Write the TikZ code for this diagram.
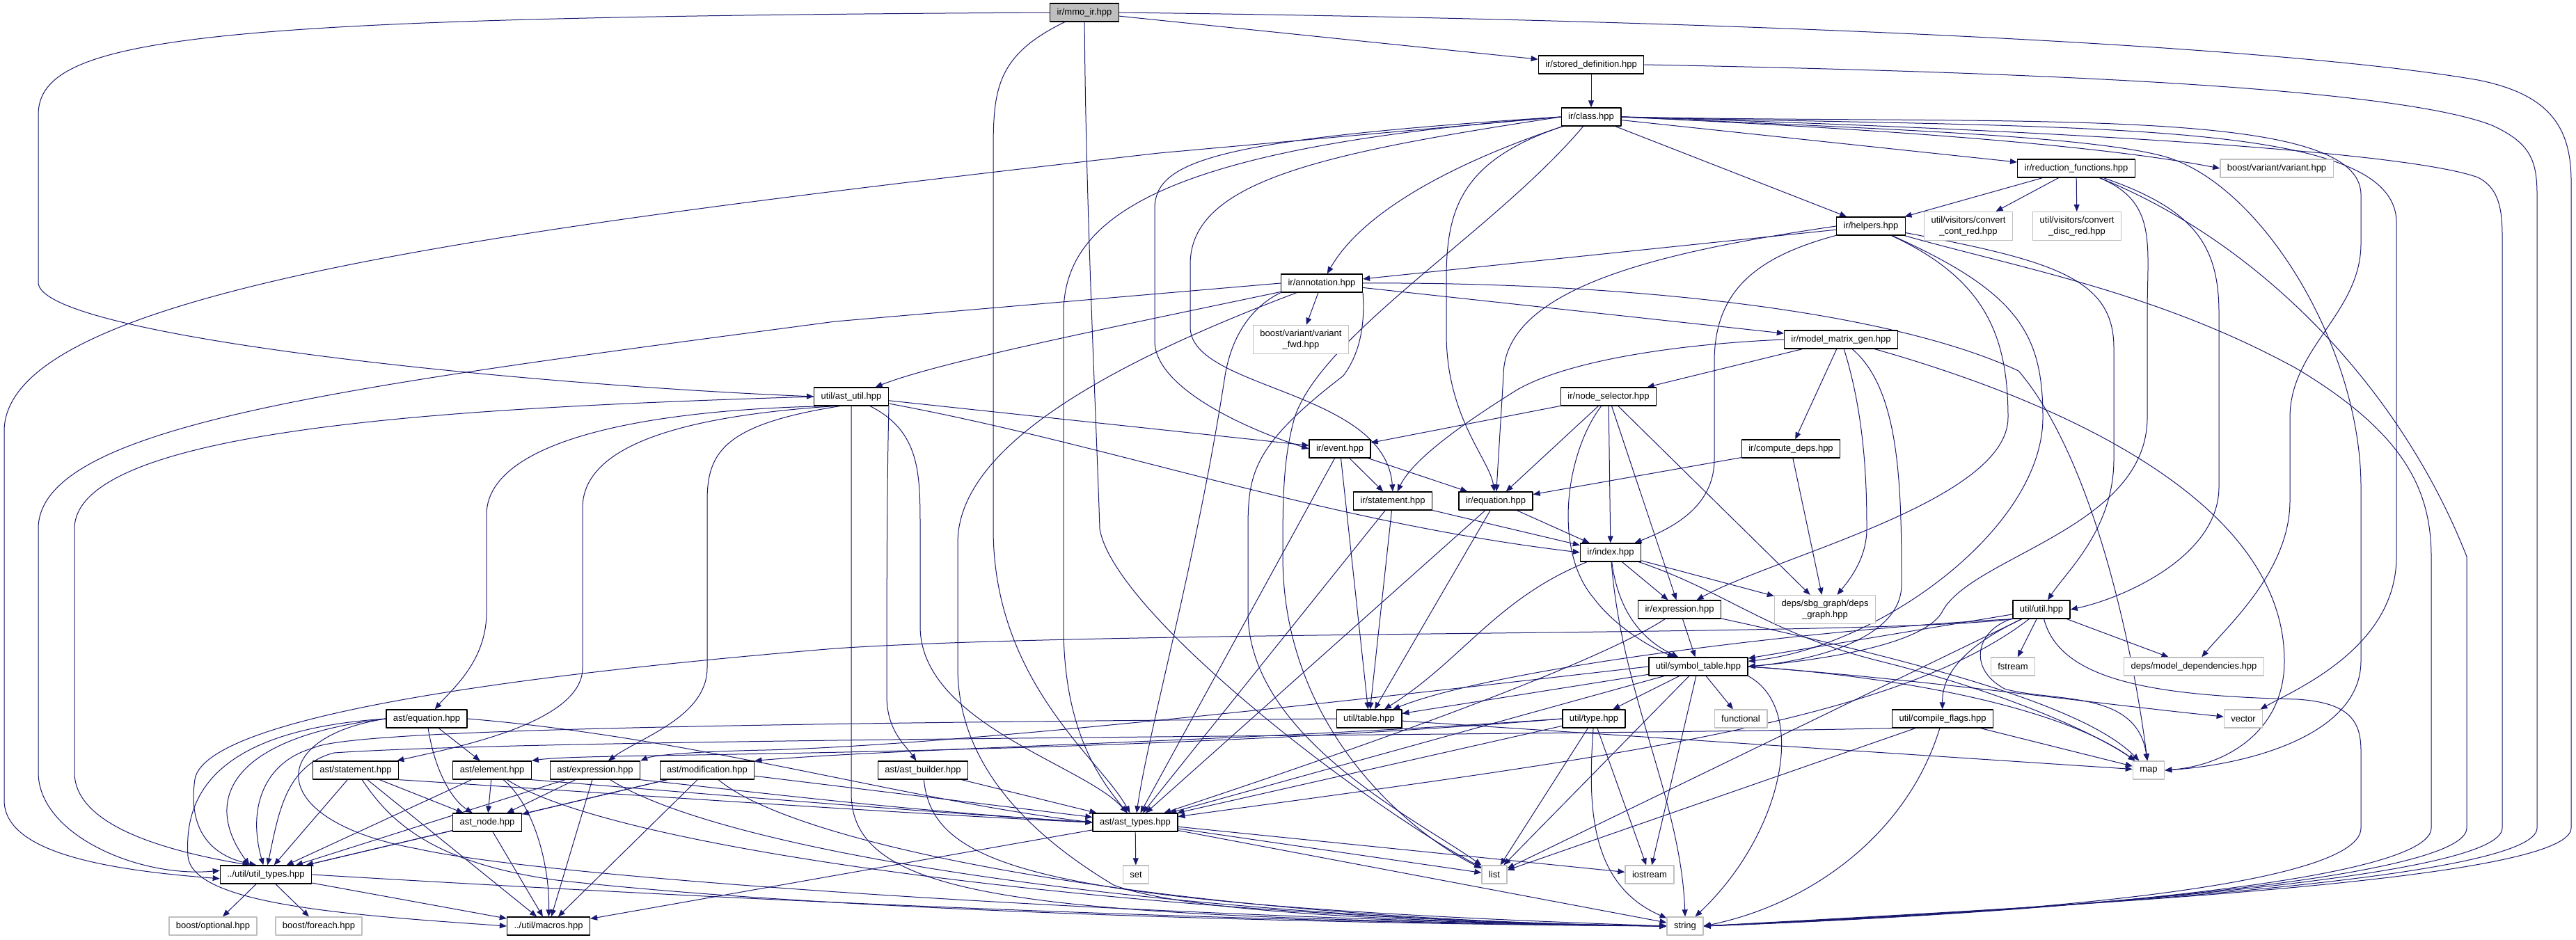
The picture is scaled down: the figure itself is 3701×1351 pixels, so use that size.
\documentclass[tikz,border=0pt]{standalone}
\usepackage{fontspec}
\setmainfont{Liberation Sans}
\usetikzlibrary{arrows.meta}
\definecolor{incblue}{HTML}{191970}
\definecolor{sysgrey}{HTML}{BFBFBF}
\pgfdeclarelayer{back}
\pgfsetlayers{back,main}
\begin{document}
\begin{tikzpicture}[x=1bp, y=-1bp, font=\fontsize{13bp}{15.5bp}\selectfont, line join=round,
	hdr/.style={draw=black, line width=1.3bp, fill=white, minimum height=26bp, inner xsep=10bp, inner ysep=0bp, align=center},
	sys/.style={hdr, draw=sysgrey},
	tall/.style={minimum height=41bp},
	dep/.style={draw=incblue, line width=1bp, -{Triangle[length=10bp, width=8bp]}}]
	\useasboundingbox (0,0) rectangle (3701,1351);
	\path
	(1558,18) node[hdr, fill=sysgrey] (mmoir) {ir/mmo\_ir.hpp}
	(2286,93) node[hdr] (storeddef) {ir/stored\_definition.hpp}
	(2286,168) node[hdr] (class) {ir/class.hpp}
	(2983,242) node[hdr] (redfun) {ir/reduction\_functions.hpp}
	(3271,242) node[sys] (variant) {boost/variant/variant.hpp}
	(2688,325) node[hdr] (helpers) {ir/helpers.hpp}
	(2828,325) node[sys, tall] (contred) {util/visitors/convert\\\_cont\_red.hpp}
	(2984,325) node[sys, tall] (discred) {util/visitors/convert\\\_disc\_red.hpp}
	(1899,407) node[hdr] (annot) {ir/annotation.hpp}
	(1869,488) node[sys, tall] (varfwd) {boost/variant/variant\\\_fwd.hpp}
	(2645,488) node[hdr] (mmg) {ir/model\_matrix\_gen.hpp}
	(1223,570) node[hdr] (astutil) {util/ast\_util.hpp}
	(2311,570) node[hdr] (nodesel) {ir/node\_selector.hpp}
	(1925,645) node[hdr] (event) {ir/event.hpp}
	(2573,645) node[hdr] (cdeps) {ir/compute\_deps.hpp}
	(2001,720) node[hdr] (irstmt) {ir/statement.hpp}
	(2149,720) node[hdr] (ireq) {ir/equation.hpp}
	(2314,794) node[hdr] (irindex) {ir/index.hpp}
	(2413,876) node[hdr] (irexpr) {ir/expression.hpp}
	(2622,876) node[sys, tall] (depsgraph) {deps/sbg\_graph/deps\\\_graph.hpp}
	(2933,876) node[hdr] (util) {util/util.hpp}
	(2440,958) node[hdr] (symtab) {util/symbol\_table.hpp}
	(2892,958) node[sys] (fstream) {fstream}
	(3152,958) node[sys] (modeldeps) {deps/model\_dependencies.hpp}
	(613,1033) node[hdr] (asteq) {ast/equation.hpp}
	(1967,1033) node[hdr] (table) {util/table.hpp}
	(2290,1033) node[hdr] (type) {util/type.hpp}
	(2501,1033) node[sys] (functional) {functional}
	(2791,1033) node[hdr] (cflags) {util/compile\_flags.hpp}
	(3223,1033) node[sys] (vector) {vector}
	(511,1107) node[hdr] (aststmt) {ast/statement.hpp}
	(707,1107) node[hdr] (astelem) {ast/element.hpp}
	(855,1107) node[hdr] (astexpr) {ast/expression.hpp}
	(1016,1107) node[hdr] (astmod) {ast/modification.hpp}
	(1326,1107) node[hdr] (astbuilder) {ast/ast\_builder.hpp}
	(3087,1107) node[sys] (map) {map}
	(700,1182) node[hdr] (astnode) {ast\_node.hpp}
	(1631,1182) node[hdr] (asttypes) {ast/ast\_types.hpp}
	(382,1257) node[hdr] (utiltypes) {../util/util\_types.hpp}
	(1632,1257) node[sys] (set) {set}
	(2147,1257) node[sys] (list) {list}
	(2370,1257) node[sys] (iostream) {iostream}
	(306,1331) node[sys] (optional) {boost/optional.hpp}
	(458,1331) node[sys] (foreach) {boost/foreach.hpp}
	(788,1331) node[hdr] (macros) {../util/macros.hpp}
	(2421,1331) node[sys] (string) {string};
	\begin{pgfonlayer}{back}
	\fill[white] (0,0) rectangle (3701,1351);
	\foreach \x/\y in {mmoir/storeddef, storeddef/class, class/helpers, class/redfun,
		redfun/helpers, redfun/contred, redfun/discred, helpers/annot, annot/varfwd, annot/mmg,
		mmg/nodesel, mmg/cdeps, nodesel/event, nodesel/ireq, nodesel/irindex, nodesel/irexpr,
		nodesel/depsgraph, astutil/event, event/irstmt, event/ireq, event/table, event/asttypes,
		cdeps/ireq, cdeps/depsgraph, irstmt/irindex, irstmt/table, irstmt/asttypes,
		ireq/irindex, ireq/table, ireq/asttypes, irindex/irexpr, irindex/depsgraph,
		irexpr/symtab, util/symtab, util/fstream, util/modeldeps, util/list,
		symtab/type, symtab/table, symtab/functional, symtab/list, symtab/iostream, symtab/asttypes,
		table/map, type/asttypes, type/list, type/iostream, cflags/map, cflags/list,
		asteq/astelem, aststmt/astnode, aststmt/utiltypes, aststmt/macros,
		astelem/astnode, astelem/utiltypes, astexpr/astnode, astexpr/utiltypes, astexpr/macros,
		astmod/astnode, astmod/utiltypes, astmod/macros, astmod/asttypes, astbuilder/asttypes,
		astnode/utiltypes, astnode/macros, asttypes/set, asttypes/list, asttypes/iostream,
		asttypes/string, asttypes/macros, utiltypes/optional, utiltypes/foreach, utiltypes/macros}
	\draw[dep] (\x)--(\y);
	% long way round on the left
	\draw[dep] (mmoir.west) .. controls (300,25) and (55,50) .. (55,165) -- (55,406) .. controls (55,480) and (700,550) .. (astutil.west);
	\draw[dep] (class.west) -- (1665,220) .. controls (700,330) and (6,420) .. (6,620) -- (6,1150) .. controls (6,1225) and (150,1250) .. (utiltypes.185);
	\draw[dep] (annot.west) -- (1200,462) .. controls (500,555) and (55,610) .. (55,760) -- (55,1110) .. controls (55,1200) and (200,1262) .. (utiltypes.175);
	\draw[dep] (astutil.west) .. controls (700,585) and (107,610) .. (107,760) -- (107,1110) .. controls (107,1190) and (250,1225) .. (utiltypes.150);
	\draw[dep] (astutil.200) .. controls (900,590) and (699,640) .. (699,740) -- (699,880) .. controls (699,950) and (650,990) .. (asteq);
	\draw[dep] (astutil.210) .. controls (950,600) and (837,650) .. (837,730) -- (837,960) .. controls (837,1040) and (650,1075) .. (aststmt);
	\draw[dep] (astutil.220) .. controls (1040,610) and (1016,650) .. (1016,720) -- (1016,960) .. controls (1016,1030) and (920,1060) .. (astexpr);
	\draw[dep] (astutil) .. controls (1223,700) and (1223,900) .. (1223,1140) .. controls (1223,1300) and (1500,1318) .. (string.west);
	\draw[dep] (astutil.south east) .. controls (1274,700) and (1274,900) .. (1274,1000) .. controls (1274,1050) and (1300,1070) .. (astbuilder);
	\draw[dep] (astutil) .. controls (1322,620) and (1322,680) .. (1322,760) -- (1322,900) .. controls (1322,1040) and (1560,1100) .. (asttypes);
	\draw[dep] (astutil) .. controls (1600,640) and (1900,750) .. (irindex.west);
	% root and class
	\draw[dep] (mmoir) .. controls (1430,80) and (1427,130) .. (1427,220) -- (1427,760) .. controls (1427,980) and (1580,1090) .. (asttypes);
	\draw[dep] (mmoir) .. controls (1560,300) and (1575,600) .. (1580,760) .. controls (1600,880) and (1950,1150) .. (list);
	\draw[dep] (mmoir.east) .. controls (2600,30) and (3300,70) .. (3560,115) .. controls (3660,135) and (3694,180) .. (3694,260) -- (3694,1190) .. controls (3694,1265) and (3000,1300) .. (string.east);
	\draw[dep] (storeddef.east) .. controls (3000,105) and (3450,130) .. (3580,180) .. controls (3635,205) and (3645,230) .. (3645,280) -- (3645,1190) .. controls (3645,1262) and (3000,1303) .. (string.east);
	\draw[dep] (class.east) .. controls (2900,185) and (3450,215) .. (3560,255) .. controls (3590,270) and (3595,300) .. (3595,340) -- (3595,1190) .. controls (3595,1260) and (3000,1305) .. (string.east);
	\draw[dep] (class.east) .. controls (2800,190) and (3050,215) .. (variant.west);
	\draw[dep] (class.east) .. controls (2900,180) and (3392,150) .. (3392,280) -- (3392,350) .. controls (3392,450) and (3290,500) .. (3290,600) -- (3290,720) .. controls (3290,820) and (3200,900) .. (modeldeps);
	\draw[dep] (class.east) .. controls (3000,185) and (3443,170) .. (3443,320) -- (3443,800) .. controls (3443,930) and (3300,990) .. (vector);
	\draw[dep] (class.east) .. controls (2700,185) and (3000,195) .. (3110,225) .. controls (3250,265) and (3392,500) .. (3392,700) -- (3392,950) .. controls (3392,1060) and (3220,1100) .. (map.east);
	\draw[dep] (class) .. controls (2100,230) and (1960,300) .. (annot);
	\draw[dep] (class.west) .. controls (1750,200) and (1659,230) .. (1659,300) -- (1659,490) .. controls (1659,560) and (1800,620) .. (event.west);
	\draw[dep] (class.west) .. controls (1900,220) and (1710,260) .. (1710,380) -- (1710,470) .. controls (1710,560) and (1990,560) .. (irstmt.north);
	\draw[dep] (class) .. controls (2100,230) and (2078,300) .. (2078,400) -- (2078,480) .. controls (2078,600) and (2140,660) .. (ireq);
	\draw[dep] (class.west) .. controls (1700,210) and (1528,300) .. (1528,450) -- (1528,900) .. controls (1528,1050) and (1580,1120) .. (asttypes);
	\draw[dep] (class) .. controls (2150,330) and (1900,480) .. (1860,600) .. controls (1843,660) and (1843,720) .. (1843,800) .. controls (1843,1050) and (2030,1200) .. (list);
	% reduction functions and helpers
	\draw[dep] (redfun) .. controls (3250,350) and (3450,560) .. (3544,800) -- (3544,1190) .. controls (3544,1260) and (3000,1308) .. (string.east);
	\draw[dep] (redfun) .. controls (3150,300) and (3188,350) .. (3188,450) -- (3188,700) .. controls (3188,800) and (3050,860) .. (util.east);
	\draw[dep] (redfun) .. controls (3100,290) and (3085,350) .. (3085,450) -- (3085,600) .. controls (3085,760) and (2830,800) .. (2790,880) .. controls (2760,930) and (2600,950) .. (symtab.east);
	\draw[dep] (helpers.west) .. controls (2400,360) and (2160,410) .. (2160,540) -- (ireq);
	\draw[dep] (helpers) .. controls (2520,370) and (2463,420) .. (2463,520) -- (2463,660) .. controls (2463,730) and (2400,760) .. (irindex);
	\draw[dep] (helpers) .. controls (2850,400) and (2885,480) .. (2885,600) .. controls (2885,720) and (2550,800) .. (irexpr);
	\draw[dep] (helpers) .. controls (2900,420) and (2935,480) .. (2935,600) .. controls (2935,760) and (2700,930) .. (symtab);
	\draw[dep] (helpers) .. controls (2950,375) and (3037,400) .. (3037,500) -- (3037,660) .. controls (3037,760) and (2970,820) .. (util);
	\draw[dep] (helpers) .. controls (2900,385) and (3100,420) .. (3300,530) .. controls (3450,620) and (3493,700) .. (3493,800) -- (3493,1190) .. controls (3493,1262) and (3000,1310) .. (string.east);
	% annotation
	\draw[dep] (annot) .. controls (1600,470) and (1350,520) .. (astutil);
	\draw[dep] (annot.south west) .. controls (1800,440) and (1770,480) .. (1760,540) .. controls (1720,800) and (1650,1050) .. (asttypes);
	\draw[dep] (annot.south east) .. controls (1960,450) and (1960,500) .. (1930,540) .. controls (1800,640) and (1793,680) .. (1793,760) -- (1793,880) .. controls (1793,1060) and (2040,1180) .. (list);
	\draw[dep] (annot.east) .. controls (2300,405) and (2700,440) .. (2900,533) .. controls (3000,650) and (3060,900) .. (map);
	\draw[dep] (annot) .. controls (1600,520) and (1376,640) .. (1376,780) -- (1376,960) .. controls (1376,1100) and (1480,1200) .. (1600,1272) .. controls (1700,1310) and (2000,1325) .. (string.west);
	% model matrix, node selector, index
	\draw[dep] (mmg.west) .. controls (2400,495) and (2250,520) .. (2180,560) .. controls (2100,610) and (2030,660) .. (irstmt);
	\draw[dep] (mmg) .. controls (2680,600) and (2682,700) .. (2682,760) .. controls (2682,800) and (2660,830) .. (depsgraph);
	\draw[dep] (mmg) .. controls (2730,560) and (2732,700) .. (2732,840) .. controls (2732,920) and (2600,950) .. (symtab.east);
	\draw[dep] (mmg) .. controls (2900,560) and (3282,700) .. (3282,950) .. controls (3282,1050) and (3200,1100) .. (map.east);
	\draw[dep] (nodesel) .. controls (2250,650) and (2230,790) .. (2290,860) .. controls (2320,900) and (2370,930) .. (symtab);
	\draw[dep] (irindex) .. controls (2150,860) and (2100,950) .. (table);
	\draw[dep] (irindex) .. controls (2325,880) and (2360,920) .. (symtab);
	\draw[dep] (irindex) .. controls (2330,1000) and (2415,1150) .. (string.north);
	\draw[dep] (irindex) .. controls (2480,850) and (2540,910) .. (2700,950) .. controls (2900,1000) and (3020,1060) .. (map);
	\draw[dep] (irexpr) .. controls (2300,950) and (2000,1060) .. (asttypes);
	\draw[dep] (irexpr) .. controls (2800,960) and (3000,1020) .. (map);
	% util, symbol table, type, flags
	\draw[dep] (util.south west) .. controls (2700,915) and (1600,905) .. (1200,932) .. controls (500,990) and (290,1060) .. (280,1120) .. controls (270,1190) and (300,1230) .. (utiltypes.135);
	\draw[dep] (util.south west) .. controls (2600,905) and (2150,960) .. (table);
	\draw[dep] (util) .. controls (2820,930) and (2790,970) .. (cflags);
	\draw[dep] (util) .. controls (2840,905) and (2825,960) .. (2880,990) .. controls (2950,1010) and (3070,990) .. (map);
	\draw[dep] (util) .. controls (2720,1040) and (2300,1090) .. (asttypes);
	\draw[dep] (util) .. controls (2960,980) and (3100,1000) .. (3300,1005) .. controls (3380,1010) and (3392,1040) .. (3392,1080) -- (3392,1190) .. controls (3392,1265) and (3000,1310) .. (string.east);
	\draw[dep] (symtab.east) .. controls (2750,975) and (3000,1010) .. (vector);
	\draw[dep] (symtab.east) .. controls (2700,970) and (2950,1010) .. (map);
	\draw[dep] (symtab.south east) .. controls (2600,1020) and (2560,1200) .. (string);
	\draw[dep] (symtab.west) .. controls (2000,1000) and (1400,1070) .. (1100,1078) .. controls (1000,1080) and (940,1085) .. (astexpr.north east);
	\draw[dep] (type.west) .. controls (1800,1070) and (1300,1080) .. (1000,1085) .. controls (880,1087) and (800,1088) .. (astelem.north east);
	\draw[dep] (type.west) .. controls (1800,1065) and (1300,1075) .. (astmod.north east);
	\draw[dep] (type) .. controls (2282,1150) and (2280,1270) .. (string);
	\draw[dep] (table.west) .. controls (1000,1040) and (500,1050) .. (450,1075) .. controls (380,1095) and (355,1160) .. (utiltypes.105);
	\draw[dep] (cflags.south west) .. controls (2200,1058) and (800,1060) .. (480,1082) .. controls (410,1100) and (400,1170) .. (utiltypes.80);
	\draw[dep] (cflags) .. controls (2740,1200) and (2600,1300) .. (string.east);
	% ast headers
	\draw[dep] (asteq) .. controls (625,1110) and (650,1150) .. (astnode);
	\draw[dep] (asteq.west) .. controls (330,1060) and (290,1150) .. (utiltypes.150);
	\draw[dep] (asteq.west) .. controls (300,1050) and (265,1150) .. (270,1230) .. controls (275,1300) and (500,1315) .. (macros.west);
	\draw[dep] (asteq.east) .. controls (1000,1060) and (1300,1150) .. (asttypes.west);
	\draw[dep] (asteq.west) .. controls (380,1060) and (380,1180) .. (600,1220) .. controls (800,1265) and (1700,1322) .. (string.west);
	\draw[dep] (aststmt.south east) .. controls (800,1135) and (1300,1170) .. (asttypes.west);
	\draw[dep] (aststmt) .. controls (560,1180) and (620,1240) .. (800,1265) .. controls (1200,1310) and (1900,1328) .. (string.west);
	\draw[dep] (astelem) .. controls (770,1160) and (790,1250) .. (macros);
	\draw[dep] (astelem.south east) .. controls (1000,1140) and (1300,1165) .. (asttypes.west);
	\draw[dep] (astelem) .. controls (900,1230) and (1700,1322) .. (string.west);
	\draw[dep] (astexpr.south east) .. controls (1100,1140) and (1300,1165) .. (asttypes.west);
	\draw[dep] (astexpr) .. controls (1050,1230) and (1700,1322) .. (string.west);
	\draw[dep] (astmod) .. controls (1150,1220) and (1700,1322) .. (string.west);
	\draw[dep] (astbuilder) .. controls (1340,1250) and (1500,1300) .. (string.west);
	\draw[dep] (utiltypes.east) .. controls (1000,1290) and (1700,1325) .. (string.west);
	\end{pgfonlayer}
\end{tikzpicture}
\end{document}
